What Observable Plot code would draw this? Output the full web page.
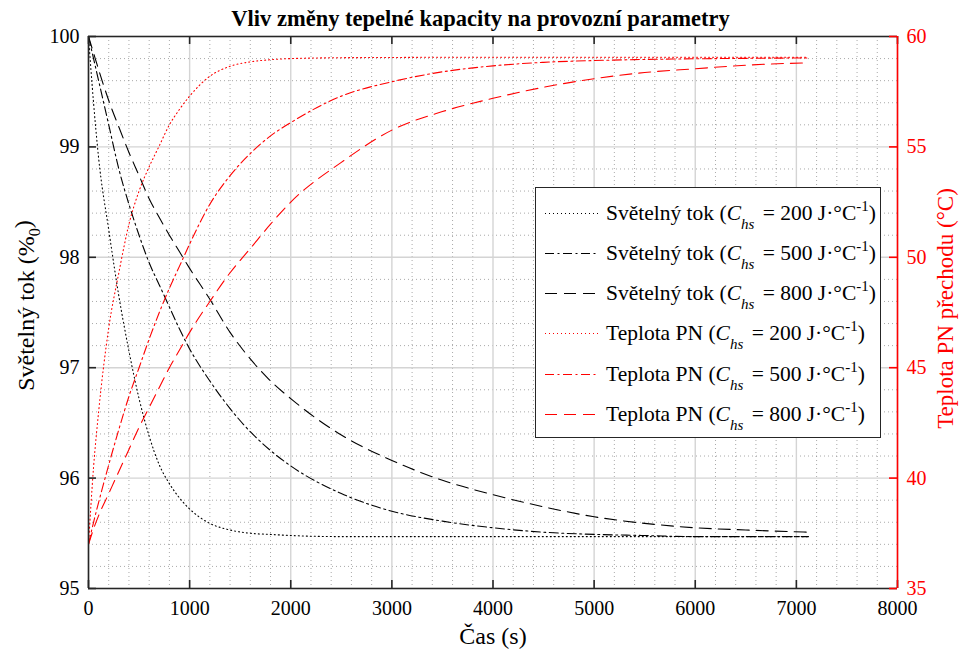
<!DOCTYPE html>
<html>
<head>
<meta charset="utf-8">
<script src="https://cdn.jsdelivr.net/npm/d3@7"></script>
<script src="https://cdn.jsdelivr.net/npm/@observablehq/plot@0.6"></script>
<style>
  body { margin: 0; background: white; }
  #wrap { position: relative; width: 960px; height: 650px; font-family: "Liberation Serif", "Times New Roman", "DejaVu Serif", serif; }
  #legend { position: absolute; left: 535px; top: 187px; width: 346px; height: 251px; border: 1.5px solid #262626; background: white; box-sizing: border-box; }
  .row { position: absolute; left: 0; height: 30px; display: flex; align-items: center; font-size: 21.5px; color: #000; white-space: nowrap; }
  .row svg { margin-left: 9px; margin-right: 8px; }
  .row sub { font-size: 15px; font-style: italic; vertical-align: -9px; line-height: 0; margin-right: 3px; }
  .row sup { font-size: 15px; vertical-align: 9px; line-height: 0; }
</style>
</head>
<body>
<div id="wrap"></div>
<script>
// ---- data ----
const time = [0, 50, 100, 200, 300, 400, 500, 600, 700, 800, 900, 1000, 1200, 1400, 1600, 1800, 2000, 2500, 3000, 3500, 4000, 4500, 5000, 5500, 6000, 6500, 7120];
const lum200 = [100, 99.4, 98.9, 98.25, 97.65, 97.15, 96.72, 96.38, 96.12, 95.95, 95.82, 95.72, 95.59, 95.53, 95.5, 95.49, 95.48, 95.47, 95.47, 95.47, 95.47, 95.47, 95.47, 95.47, 95.47, 95.47, 95.47];
const lum500 = [100, 99.8, 99.6, 99.2, 98.8, 98.48, 98.2, 97.95, 97.75, 97.55, 97.35, 97.17, 96.88, 96.63, 96.42, 96.25, 96.11, 95.86, 95.7, 95.61, 95.55, 95.51, 95.49, 95.48, 95.47, 95.47, 95.47];
const lum800 = [100, 99.85, 99.7, 99.42, 99.18, 98.95, 98.74, 98.53, 98.36, 98.2, 98.05, 97.9, 97.62, 97.32, 97.08, 96.88, 96.72, 96.39, 96.16, 95.98, 95.85, 95.74, 95.65, 95.59, 95.55, 95.53, 95.51];
const temp200 = [37, 40.5, 43.0, 46.8, 49.3, 51.5, 53.0, 54.1, 55.05, 56.0, 56.7, 57.3, 58.2, 58.65, 58.85, 58.95, 59.0, 59.04, 59.05, 59.06, 59.06, 59.06, 59.06, 59.06, 59.06, 59.06, 59.06];
const temp500 = [37, 38, 38.9, 40.6, 42.2, 43.7, 45.0, 46.3, 47.5, 48.6, 49.6, 50.6, 52.4, 53.7, 54.7, 55.5, 56.1, 57.3, 57.95, 58.4, 58.67, 58.83, 58.91, 58.96, 58.99, 59.01, 59.03];
const temp800 = [37, 37.7, 38.3, 39.3, 40.3, 41.3, 42.3, 43.2, 44.1, 45.0, 45.8, 46.6, 48.0, 49.3, 50.4, 51.5, 52.5, 54.3, 55.76, 56.6, 57.2, 57.7, 58.09, 58.37, 58.54, 58.7, 58.81];

const xTicks = [0, 1000, 2000, 3000, 4000, 5000, 6000, 7000, 8000];
const yTicks = [95, 96, 97, 98, 99, 100];
const y2Ticks = [35, 40, 45, 50, 55, 60];
const xMinor = d3.range(0, 8001, 200).filter(v => v % 1000 !== 0);
const yMinor = d3.range(95, 100.001, 0.2).map(v => +v.toFixed(1)).filter(v => Math.abs(v - Math.round(v)) > 1e-6);

const title = "Vliv změny tepelné kapacity na provozní parametry";
const xLabel = "Čas (s)";
const yLabel = "Světelný tok (%0)";
const y2Label = "Teplota PN přechodu (°C)";
const seriesNames = ["Světelný tok", "Světelný tok", "Světelný tok", "Teplota PN", "Teplota PN", "Teplota PN"];
const capacities = [200, 500, 800, 200, 500, 800];

// right axis (35..60 °C) mapped onto left axis (95..100 %)
const T2Y = T => 95 + (T - 35) / 5;
const Y2T = y => Math.round(35 + (y - 95) * 5);

const FONT = '"Liberation Serif", "Times New Roman", "DejaVu Serif", serif';
const dashes = { 200: "1,3", 500: "9,3.5,2,3.5", 800: "12,7" };
const mk = (vals, conv) => time.map((t, i) => ({ t, v: conv ? conv(vals[i]) : vals[i] }));
const series = [
  { d: mk(lum200), c: "#000", cap: 200 },
  { d: mk(lum500), c: "#000", cap: 500 },
  { d: mk(lum800), c: "#000", cap: 800 },
  { d: mk(temp200, T2Y), c: "#ff0000", cap: 200 },
  { d: mk(temp500, T2Y), c: "#ff0000", cap: 500 },
  { d: mk(temp800, T2Y), c: "#ff0000", cap: 800 }
];

const W = 960, H = 650, mT = 36, mL = 88, mR = 63, mB = 62;
const fw = W - mL - mR, fh = H - mT - mB;
const tick = 8;

const chart = Plot.plot({
  width: W, height: H,
  marginTop: mT, marginLeft: mL, marginRight: mR, marginBottom: mB,
  x: { domain: [0, 8000] },
  y: { domain: [95, 100] },
  style: { fontFamily: FONT, fontSize: "20px", background: "white", color: "black" },
  marks: [
    Plot.gridX(xMinor, { stroke: "#8c8c8c", strokeOpacity: 0.75, strokeDasharray: "1,3" }),
    Plot.gridY(yMinor, { stroke: "#8c8c8c", strokeOpacity: 0.75, strokeDasharray: "1,3" }),
    Plot.gridX(xTicks, { stroke: "#d4d4d4", strokeOpacity: 1, strokeWidth: 1.4 }),
    Plot.gridY(yTicks, { stroke: "#d4d4d4", strokeOpacity: 1, strokeWidth: 1.4 }),
    ...series.map(s => Plot.line(s.d, { x: "t", y: "v", stroke: s.c, strokeWidth: 1.1, strokeDasharray: dashes[s.cap], curve: "monotone-x" })),
    // frame
    Plot.ruleY([95, 100], { stroke: "#262626", strokeWidth: 1.6 }),
    Plot.ruleX([0], { stroke: "#262626", strokeWidth: 1.6 }),
    // inward ticks
    Plot.ruleX(xTicks, { x: d => d, stroke: "#262626", strokeWidth: 1.6, insetTop: fh - tick }),
    Plot.ruleX(xTicks, { x: d => d, stroke: "#262626", strokeWidth: 1.6, insetBottom: fh - tick }),
    Plot.ruleY(yTicks, { y: d => d, stroke: "#262626", strokeWidth: 1.6, insetRight: fw - tick }),
    Plot.ruleY(y2Ticks.map(T2Y), { y: d => d, stroke: "#ff0000", strokeWidth: 1.6, insetLeft: fw - tick }),
    Plot.ruleX([8000], { stroke: "#ff0000", strokeWidth: 1.6 }),
    // axes labels
    Plot.axisX(xTicks, { anchor: "bottom", tickSize: 0, tickPadding: 12, label: null, tickFormat: d => String(d) }),
    Plot.axisY(yTicks, { anchor: "left", tickSize: 0, tickPadding: 9, label: null, tickFormat: d => String(d) }),
    Plot.axisY(y2Ticks.map(T2Y), { anchor: "right", tickSize: 0, tickPadding: 9, label: null, color: "#ff0000", tickFormat: Y2T }),
    Plot.text([title], { frameAnchor: "top", textAnchor: "middle", lineAnchor: "middle", dx: W / 2 - (mL + fw / 2), dy: -18, fontWeight: "bold", fontSize: 22.5 }),
    Plot.text([xLabel], { frameAnchor: "bottom", textAnchor: "middle", lineAnchor: "middle", dy: 48, fontSize: 24 }),
    Plot.text([yLabel], { frameAnchor: "left", textAnchor: "middle", lineAnchor: "middle", dx: -62, dy: -7, rotate: -90, fontSize: 24 }),
    Plot.text([y2Label], { frameAnchor: "right", textAnchor: "middle", lineAnchor: "middle", dx: 48, dy: -4, rotate: -90, fontSize: 23, fill: "#ff0000" })
  ]
});

// subscript 0 in the left axis label
d3.select(chart).selectAll("text").each(function () {
  if (this.textContent === yLabel) {
    const t = d3.select(this);
    t.text(null);
    t.append("tspan").text("Světelný tok (%");
    t.append("tspan").attr("font-size", 16).attr("dy", "0.35em").text("0");
    t.append("tspan").attr("dy", "-0.35em").text(")");
  }
});

const wrap = document.getElementById("wrap");
wrap.appendChild(chart);

// legend
const legend = document.createElement("div");
legend.id = "legend";
const rowTops = [10, 50, 90, 130, 171, 211];
series.forEach((s, i) => {
  const row = document.createElement("div");
  row.className = "row";
  row.style.top = rowTops[i] + "px";
  row.innerHTML =
    `<svg width="53" height="4"><line x1="0" y1="2.5" x2="53" y2="2.5" stroke="${s.c}" stroke-width="1.2" stroke-dasharray="${dashes[s.cap]}"/></svg>` +
    `<span>${seriesNames[i]} (<i>C</i><sub>hs</sub> = ${capacities[i]} J·°C<sup>-1</sup>)</span>`;
  legend.appendChild(row);
});
wrap.appendChild(legend);
</script>
</body>
</html>
